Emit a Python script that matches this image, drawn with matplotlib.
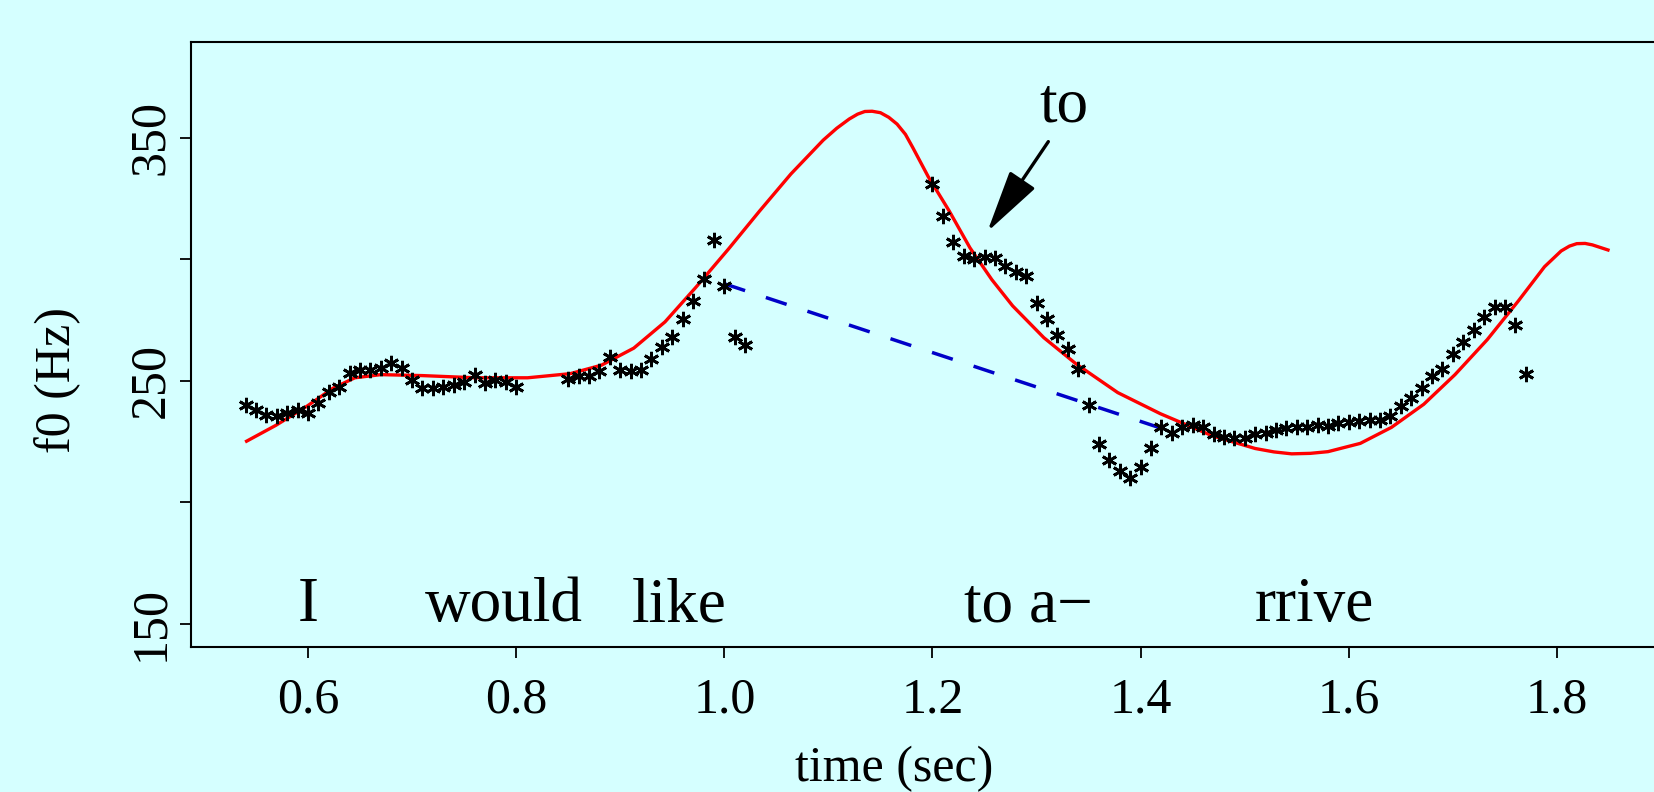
import numpy as np
import matplotlib.pyplot as plt

# f0 track (10 ms frames), three voiced stretches
t_a = [0.54, 0.55, 0.56, 0.57, 0.58, 0.59, 0.60, 0.61, 0.62, 0.63, 0.64, 0.65, 0.66, 0.67,
       0.68, 0.69, 0.70, 0.71, 0.72, 0.73, 0.74, 0.75, 0.76, 0.77, 0.78, 0.79, 0.80]
f_a = [240, 238, 236, 235.5, 236.8, 238, 237, 240.8, 245.6, 247.7, 253.2, 254.5, 254.5, 255.2,
       257.3, 255.2, 250.4, 247, 247, 247.7, 248.4, 249.7, 252.5, 249, 250.4, 249.7, 247.7]

t_b = [0.85, 0.86, 0.87, 0.88, 0.89, 0.90, 0.91, 0.92, 0.93, 0.94, 0.95, 0.96, 0.97, 0.98,
       0.99, 1.00, 1.01, 1.02]
f_b = [251, 252, 252, 254, 260, 254.5, 254, 254.5, 259, 264, 268, 275.5, 283, 292,
       308, 289, 268, 265]

t_c = [1.20, 1.21, 1.22, 1.23, 1.24, 1.25, 1.26, 1.27, 1.28, 1.29, 1.30, 1.31, 1.32, 1.33,
       1.34, 1.35, 1.36, 1.37, 1.38, 1.39, 1.40, 1.41, 1.42, 1.43, 1.44, 1.45, 1.46, 1.47,
       1.48, 1.49, 1.50, 1.51, 1.52, 1.53, 1.54, 1.55, 1.56, 1.57, 1.58, 1.59, 1.60, 1.61,
       1.62, 1.63, 1.64, 1.65, 1.66, 1.67, 1.68, 1.69, 1.70, 1.71, 1.72, 1.73, 1.74, 1.75,
       1.76, 1.77]
f_c = [331, 318, 307, 301.5, 300, 301, 300.5, 297.5, 295, 293, 282, 275.5, 269, 263,
       255, 240, 224, 217.5, 213, 210, 214.5, 222.5, 231, 228.5, 231, 232, 231, 228,
       227, 226.5, 226.5, 228, 228.5, 230, 230.5, 231, 231, 232, 231.5, 232.5, 233, 233.5,
       234, 234, 235.5, 239.5, 243, 247, 252, 255, 261, 266, 271, 276.5, 280.5, 280.5,
       273, 253]

# smooth fitted contour
t_fit = [0.541, 0.569, 0.599, 0.624, 0.645, 0.67, 0.71, 0.761, 0.811, 0.852, 0.882, 0.913,
         0.943, 0.973, 1.004, 1.034, 1.064, 1.095, 1.108, 1.12, 1.128, 1.135, 1.142, 1.15,
         1.158, 1.166, 1.174, 1.181, 1.196, 1.216, 1.236, 1.257, 1.277, 1.307, 1.338, 1.378,
         1.419, 1.469, 1.51, 1.528, 1.545, 1.563, 1.58, 1.611, 1.641, 1.672, 1.702, 1.733,
         1.763, 1.788, 1.804, 1.812, 1.819, 1.827, 1.834, 1.849]
f_fit = [225.2, 231.7, 239.6, 247, 251.3, 252.6, 252.2, 251.3, 251.3, 253, 256.5, 263.5,
         274.3, 288.7, 304.3, 320, 335.2, 349.1, 354, 357.8, 359.8, 360.9, 361, 360.4,
         358.5, 355.7, 351.5, 346.1, 334, 320, 304.8, 291.7, 280.9, 267.8, 257, 245.2,
         236.5, 227.4, 222.2, 220.8, 220, 220.2, 220.9, 224.3, 230.9, 240.4, 252.6, 267,
         283, 297, 303.5, 305.5, 306.5, 306.6, 306, 303.9]

# dashed line across the gap
t_line = [1.00, 1.42]
f_line = [290, 230.5]

words = ['I', 'would', 'like', 'to a\u2212', 'rrive']
word_t = [0.60, 0.788, 0.957, 1.292, 1.567]

bg = '#d5ffff'
plt.rcParams['font.family'] = ['Liberation Serif', 'DejaVu Serif']

fig = plt.figure(figsize=(16.54, 7.92), dpi=100, facecolor=bg)
ax = fig.add_axes([191 / 1654, 145 / 792, 1509 / 1654, 605 / 792])
ax.set_facecolor(bg)

ax.plot(t_fit, f_fit, color='red', lw=2.4, zorder=2)
ax.plot(t_line, f_line, color='#0000c8', lw=2.5, dashes=(6.3, 6.3), zorder=2)
for tt, ff in [(t_a, f_a), (t_b, f_b), (t_c, f_c)]:
    ax.plot(tt, ff, ls='none', marker=(6, 2, 0), ms=11, mew=2.0, color='black', zorder=3)

for w, t in zip(words, word_t):
    ax.text(t, 151, w, fontsize=45.5, ha='center', va='baseline')

ax.text(1.3264, 356.7, 'to', fontsize=45.5, ha='center', va='baseline')
ax.annotate('', xy=(1.2527, 311.4), xytext=(1.3113, 348.5),
            arrowprops=dict(arrowstyle='-|>,head_length=3.9,head_width=0.95',
                            mutation_scale=10, lw=2.4, color='black',
                            shrinkA=0, shrinkB=0))

ax.set_xlim(0.4876, 1.9374)
ax.set_ylim(140.5, 389.5)
ax.set_xticks([0.6, 0.8, 1.0, 1.2, 1.4, 1.6, 1.8])
ax.set_xticklabels(['0.6', '0.8', '1.0', '1.2', '1.4', '1.6', '1.8'])
ax.set_yticks([150, 200, 250, 300, 350])
ax.set_yticklabels(['150', '', '250', '', '350'])
ax.tick_params(axis='both', length=8, width=1.3, labelsize=36, direction='out')
ax.tick_params(axis='x', pad=13.5)
ax.tick_params(axis='y', pad=12.2)
for lbl in ax.get_yticklabels():
    lbl.set_rotation(90)
    lbl.set_rotation_mode('anchor')
    lbl.set_ha('center')
    lbl.set_va('baseline')
for s in ax.spines.values():
    s.set_linewidth(1.5)

fig.text(894 / 1654, 11 / 792, 'time (sec)', fontsize=36, ha='center', va='baseline')
fig.text(70 / 1654, 412 / 792, 'f0 (Hz)', fontsize=36, rotation=90,
         rotation_mode='anchor', ha='center', va='baseline')

fig.savefig('out.png', dpi=100, facecolor=bg)
